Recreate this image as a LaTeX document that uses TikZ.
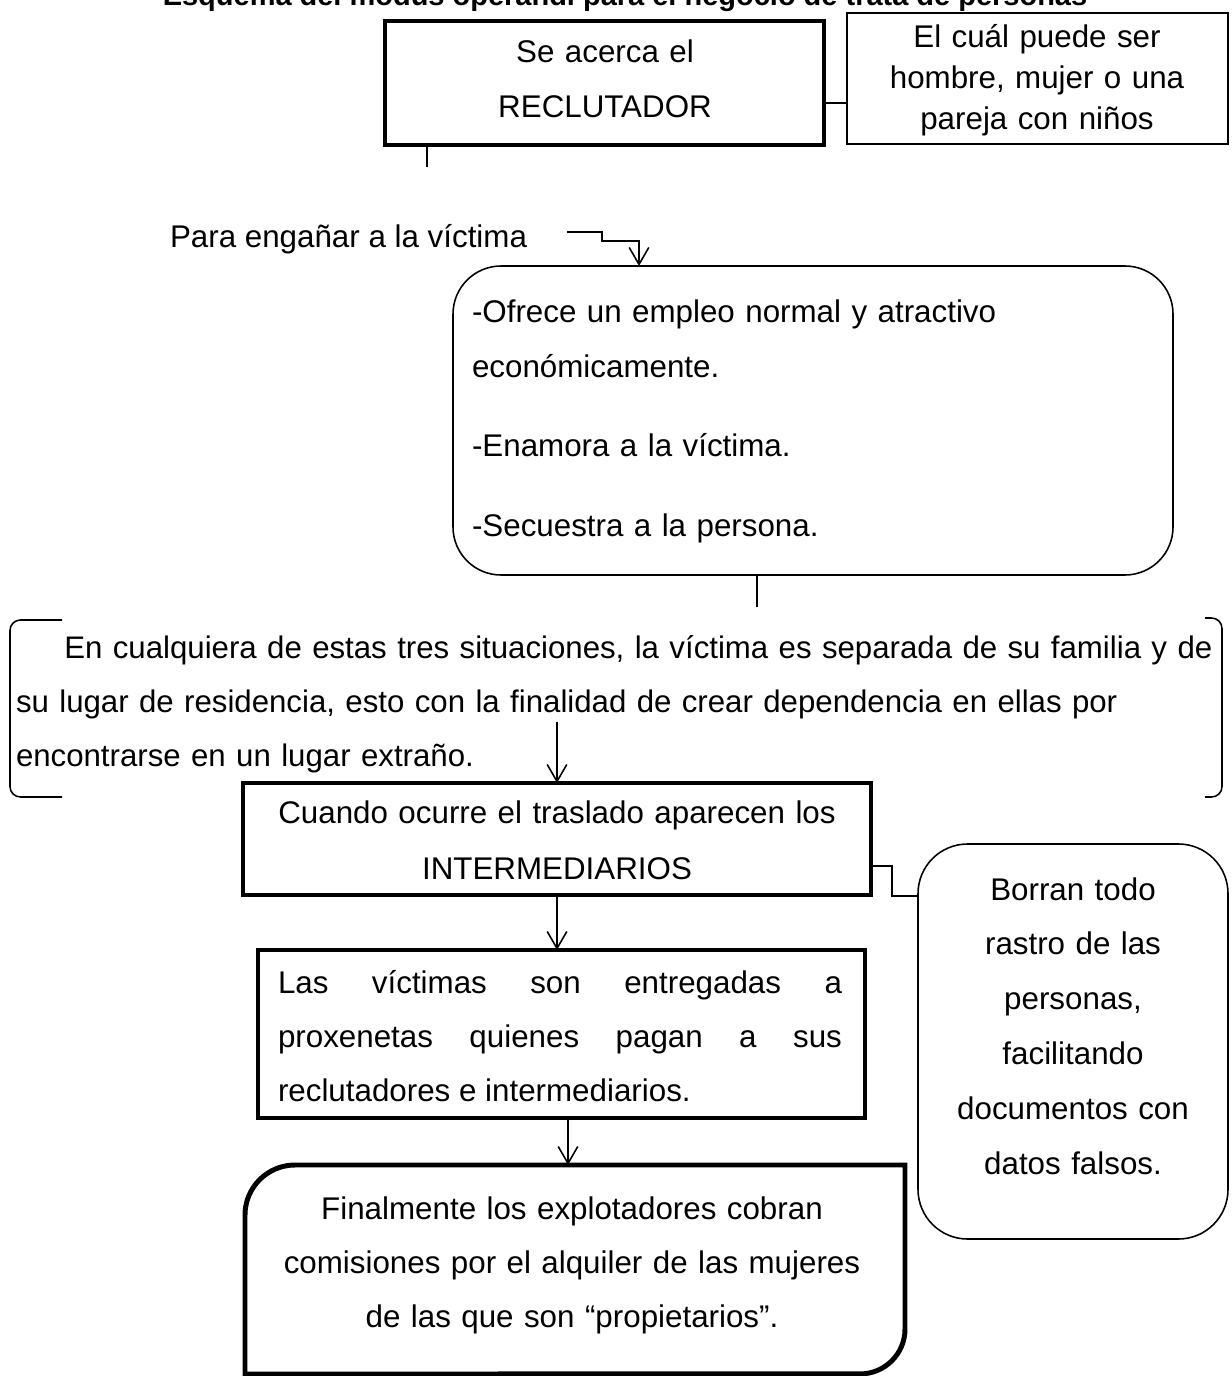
\documentclass[tikz,border=0pt]{standalone}
\usepackage{fontspec}
\setmainfont{Liberation Sans}
\usetikzlibrary{arrows.meta,fit}
\begin{document}
\begin{tikzpicture}[x=0.383pt,y=-0.383pt,
  thinline/.style={line width=0.6pt},
  thickline/.style={line width=1.9pt},
  arr/.style={thinline,-{Straight Barb[length=6.5pt,width=7.5pt]}},
  boxfit/.style={inner sep=0pt,outer sep=0pt},
  txt/.style={inner sep=0pt,outer sep=0pt,font=\fontsize{12}{20.7}\selectfont},
]
\useasboundingbox (0,0) rectangle (1231,1376);

% title
\node[inner sep=0pt,anchor=base,font=\fontsize{11.1}{13}\selectfont\bfseries] (title) at (625,6) {Esquema del modus operandi para el negocio de trata de personas};

% boxes
\node[boxfit,draw,thickline,fit={(385,21) (824,145)}] (b1) {};
\node[boxfit,draw,thinline,fit={(847,13) (1228,144)}] (b2) {};
\node[boxfit,draw,thinline,rounded corners=18.4pt,fit={(453,266) (1173,575)}] (b3) {};
\node[boxfit,draw,thickline,fit={(243,783) (871,895)}] (b4) {};
\node[boxfit,draw,thinline,rounded corners=19pt,fit={(918,844) (1228,1239)}] (b5) {};
\node[boxfit,draw,thickline,fit={(258,950) (865,1118)}] (b6) {};
\node[boxfit,fit={(245,1165) (905,1374)}] (b7) {};
\draw[thickline] (245,1374) -- (245,1215) arc[start angle=180,end angle=90,radius=19.15pt]
  -- (905,1165) -- (905,1329) arc[start angle=0,end angle=-90,radius=17.2pt] -- cycle;

% texts
\node[txt,anchor=base,text width=153pt,align=center] (t1) at (605,63) {Se acerca el\\RECLUTADOR};
\node[txt,anchor=base,text width=142pt,align=center,font=\fontsize{12}{15.7}\selectfont] (t2) at (1037,48) {El cuál puede ser\\hombre, mujer o una\\pareja con niños};
\node[txt,anchor=base west] (p1) at (170,248) {Para engañar a la víctima};
\node[txt,anchor=base west,text width=260pt,align=left] (t3) at (472,323) {-Ofrece un empleo normal y atractivo\\económicamente.\\[9.9pt]-Enamora a la víctima.\\[9.9pt]-Secuestra a la persona.};
\node[txt,anchor=base west,text width=520pt,align=left,font=\fontsize{11.95}{20.7}\selectfont] (t4) at (16,658) {\hspace*{18.5pt}En cualquiera de estas tres situaciones, la víctima es separada de su familia y de\\su lugar de residencia, esto con la finalidad de crear dependencia en ellas por\\encontrarse en un lugar extraño.};
\node[txt,anchor=base,text width=230pt,align=center,font=\fontsize{12}{21.5}\selectfont] (t5) at (557,823) {Cuando ocurre el traslado aparecen los\\INTERMEDIARIOS};
\node[txt,anchor=base,text width=115pt,align=center,font=\fontsize{12}{21}\selectfont] (t6) at (1073,900) {Borran todo\\rastro de las\\personas,\\facilitando\\documentos con\\datos falsos.};
\node[txt,anchor=base west,text width=216pt,align=justify] (t7) at (278,993) {Las víctimas son entregadas a\linebreak proxenetas quienes pagan a sus\linebreak reclutadores e intermediarios.};
\node[txt,anchor=base,text width=245pt,align=center] (t8) at (572,1219) {Finalmente los explotadores cobran\\comisiones por el alquiler de las mujeres\\de las que son “propietarios”.};

% connectors
\coordinate (c12) at (836,103);
\draw[thinline] (b1.east |- c12) -- (b2.west |- c12);
\coordinate (e1) at (427,167);
\draw[thinline] (b1.south -| e1) -- (e1);
\coordinate (s1) at (567,232);
\coordinate (s1a) at (602,232);
\coordinate (s1b) at (602,241);
\coordinate (s1c) at (639,241);
\draw[arr] (s1) -- (s1a) -- (s1b) -- (s1c) -- (b3.north -| s1c);
\coordinate (e3) at (757,607);
\draw[thinline] (b3.south -| e3) -- (e3);
\draw[thinline,rounded corners=4pt] (62,620) -- (10,620) -- (10,797) -- (62,797);
\draw[thinline,rounded corners=4pt] (1205,618) -- (1222,618) -- (1222,797) -- (1205,797);
\coordinate (s2) at (557,722);
\draw[arr] (s2) -- (b4.north -| s2);
\coordinate (k1) at (892,866);
\coordinate (k2) at (892,896);
\draw[thinline] (b4.east |- k1) -- (k1) -- (k2) -- (b5.west |- k2);
\draw[arr] (b4.south -| s2) -- (b6.north -| s2);
\coordinate (s3) at (568,1000);
\draw[arr] (b6.south -| s3) -- (b7.north -| s3);
\end{tikzpicture}
\end{document}
